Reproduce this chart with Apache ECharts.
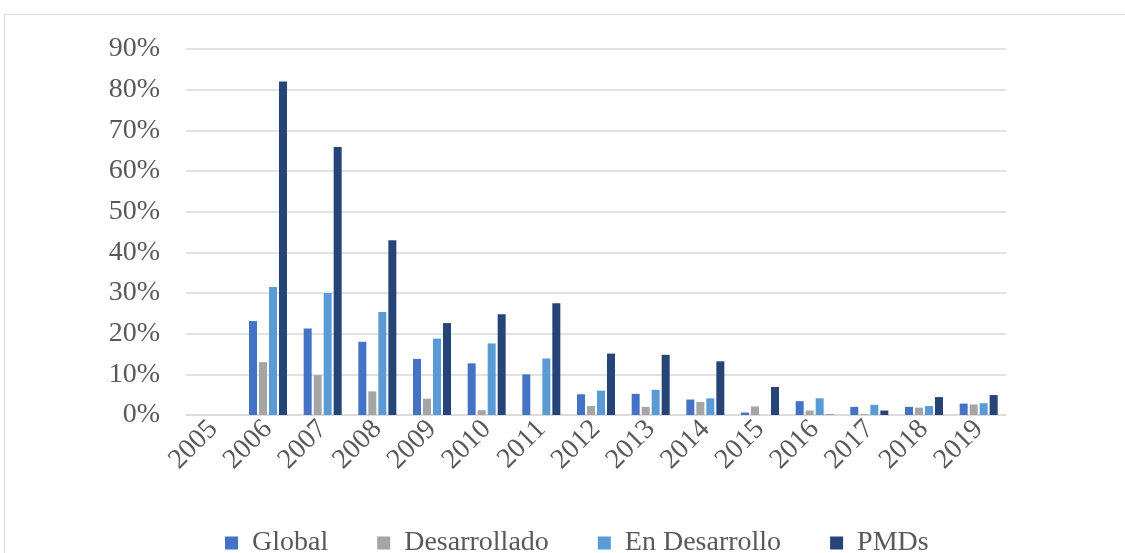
<!DOCTYPE html>
<html>
<head>
<meta charset="utf-8">
<script src="https://cdn.jsdelivr.net/npm/echarts@6/dist/echarts.min.js"></script>
<style>
  html, body { margin: 0; padding: 0; background: #fff; }
  #chart { width: 1125px; height: 553px; }
</style>
</head>
<body>
<div id="chart"></div>
<script>
// Years on the category axis
const years = ['2005', '2006', '2007', '2008', '2009', '2010', '2011', '2012',
               '2013', '2014', '2015', '2016', '2017', '2018', '2019'];

// Shares per group (fraction of 1)
const globalVals       = [null, 0.231, 0.213, 0.180, 0.138, 0.127, 0.100, 0.051, 0.052, 0.038, 0.006, 0.034, 0.020, 0.020, 0.028];
const desarrolladoVals = [null, 0.130, 0.098, 0.058, 0.040, 0.012, 0.000, 0.022, 0.020, 0.032, 0.021, 0.011, 0.002, 0.018, 0.026];
const enDesarrolloVals = [null, 0.315, 0.300, 0.253, 0.188, 0.176, 0.139, 0.060, 0.062, 0.041, 0.000, 0.041, 0.025, 0.022, 0.029];
const pmdsVals         = [null, 0.820, 0.659, 0.430, 0.226, 0.248, 0.275, 0.151, 0.148, 0.132, 0.069, 0.001, 0.011, 0.044, 0.049];

const seriesNames = ['Global', 'Desarrollado', 'En Desarrollo', 'PMDs'];
const seriesColors = ['#4472C4', '#A5A5A5', '#5B9BD5', '#264478'];
const seriesData = [globalVals, desarrolladoVals, enDesarrolloVals, pmdsVals];

const FONT = "'Liberation Serif', 'Times New Roman', serif";
const TEXT = '#595959';

const chart = echarts.init(document.getElementById('chart'), null, { renderer: 'canvas' });

chart.setOption({
  backgroundColor: '#fff',
  animation: false,
  graphic: [{
    type: 'rect',
    shape: { x: 4.5, y: 14.5, width: 1200, height: 600 },
    style: { fill: 'none', stroke: '#d9d9d9', lineWidth: 1 },
    silent: true
  }],
  grid: { left: 186, right: 119, top: 49, bottom: 138 },
  legend: {
    data: seriesNames,
    left: 220,
    top: 524,
    icon: 'rect',
    itemWidth: 13,
    itemHeight: 13,
    itemGap: 49,
    textStyle: { fontFamily: FONT, fontSize: 28, color: TEXT, padding: [0, 0, 0, 9] }
  },
  xAxis: {
    type: 'category',
    data: years,
    axisLine: { lineStyle: { color: '#d9d9d9', width: 1.5 } },
    axisTick: { show: false },
    axisLabel: {
      rotate: 45,
      margin: 10,
      interval: 0,
      fontFamily: FONT,
      fontSize: 28,
      color: TEXT
    }
  },
  yAxis: {
    type: 'value',
    min: 0,
    max: 0.9,
    interval: 0.1,
    axisLine: { show: false },
    axisTick: { show: false },
    splitLine: { lineStyle: { color: '#d9d9d9', width: 1.5 } },
    axisLabel: {
      margin: 26,
      fontFamily: FONT,
      fontSize: 28,
      color: TEXT,
      formatter: v => Math.round(v * 100) + '%'
    }
  },
  series: seriesNames.map((name, i) => ({
    name: name,
    type: 'bar',
    data: seriesData[i],
    barWidth: 8,
    barGap: '25%',
    itemStyle: { color: seriesColors[i] }
  }))
});
</script>
</body>
</html>
